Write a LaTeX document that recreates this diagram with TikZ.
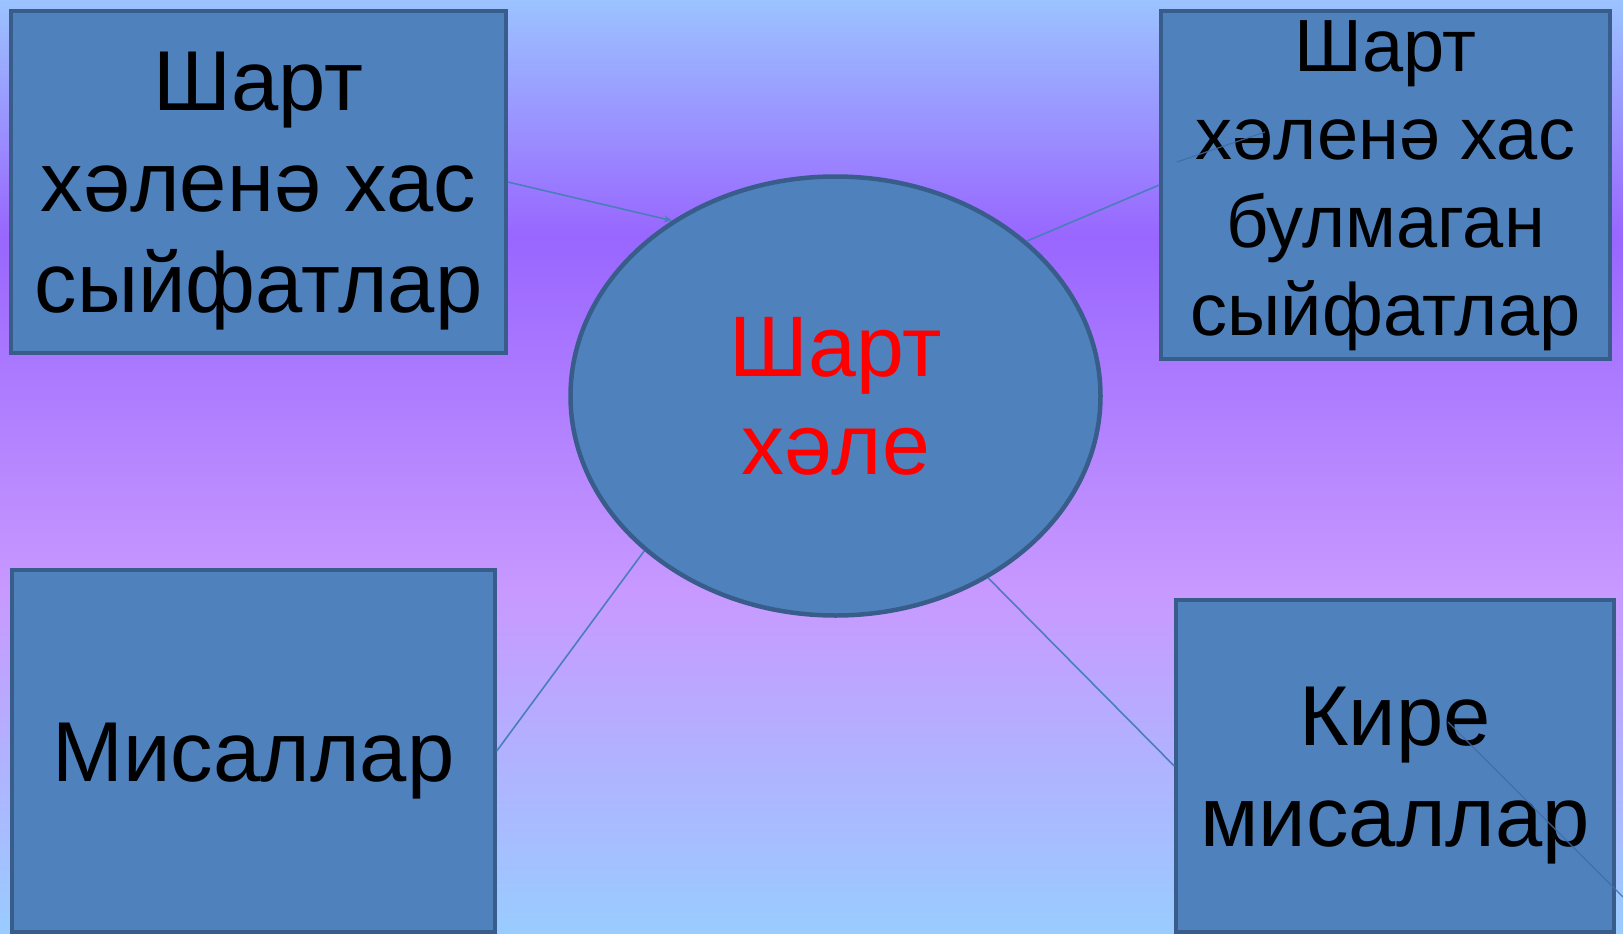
\documentclass[tikz,border=0pt]{standalone}
\usepackage{fontspec}
\setmainfont{Liberation Sans}
\usetikzlibrary{shapes.geometric,arrows.meta}
\definecolor{bgA}{HTML}{9BC3FF}
\definecolor{bgB}{HTML}{9966FF}
\definecolor{bgC}{HTML}{C899FF}
\definecolor{bgD}{HTML}{99CCFF}
\definecolor{boxfill}{HTML}{4F81BD}
\definecolor{boxline}{HTML}{385D8A}
\definecolor{lineblue}{HTML}{4A7EBB}
\definecolor{faintline}{HTML}{3E6DA8}
\pgfdeclareverticalshading{bgshade}{100bp}{color(0bp)=(bgD); color(25bp)=(bgD); color(43.3bp)=(bgC); color(62.3bp)=(bgB); color(75bp)=(bgA); color(100bp)=(bgA)}
\tikzset{
  boxnode/.style={rectangle, draw=boxline, fill=boxfill, line width=3.5pt, inner sep=0pt},
  boxtext/.style={inner sep=0pt, align=center, text=black},
  ellnode/.style={ellipse, draw=boxline, fill=boxfill, line width=4.5pt, inner sep=0pt, align=center, text=red},
  conn/.style={draw=lineblue, line width=1.6pt},
  faint/.style={draw=faintline, line width=1.2pt, opacity=0.85},
  bigtext/.style={font=\fontsize{85pt}{101pt}\selectfont},
  midtext/.style={font=\fontsize{74pt}{88pt}\selectfont},
}
\begin{document}
\begin{tikzpicture}[x=1pt,y=-1pt]
\useasboundingbox (0,0) rectangle (1623,934);
\fill[shading=bgshade] (0,0) rectangle (1623,934);

\node[boxnode, minimum width=495pt, minimum height=342pt] (tl) at (258.5,182) {};
\node[boxtext, bigtext, yshift=-9pt] (tltext) at (tl) {Шарт\\хәленә хас\\сыйфатлар};
\node[boxnode, minimum width=449pt, minimum height=348pt] (tr) at (1385.5,185) {};
\node[boxtext, midtext, yshift=-1pt] (trtext) at (tr) {Шарт\\хәленә хас\\булмаган\\сыйфатлар};
\node[boxnode, minimum width=483pt, minimum height=362pt] (bl) at (253.5,751) {};
\node[boxtext, bigtext, yshift=-10pt] (bltext) at (bl) {Мисаллар};
\node[boxnode, minimum width=438pt, minimum height=332pt] (br) at (1395,766) {};
\node[boxtext, bigtext, yshift=-10pt] (brtext) at (br) {Кире\\мисаллар};
\node[ellnode, font=\fontsize{86pt}{98pt}\selectfont, minimum width=530pt, minimum height=439pt] (ell) at (835.5,396) {Шарт\\хәле};

\draw[conn, -{Stealth[length=8pt,width=7pt]}] (tl.east) -- (ell.133);
\draw[conn] (ell.39.6) -- (tr.west);
\draw[conn] (ell.219.7) -- (bl.east);
\draw[conn] (ell.-50.1) -- (br.west);

\coordinate (trA) at (1177,162);
\coordinate (trB) at (1265,132);
\draw[faint] (trA) -- (trB);
\coordinate (brA) at (1448,722);
\coordinate (brB) at (1623,897);
\draw[faint] (brA) -- (brB);
\end{tikzpicture}
\end{document}
